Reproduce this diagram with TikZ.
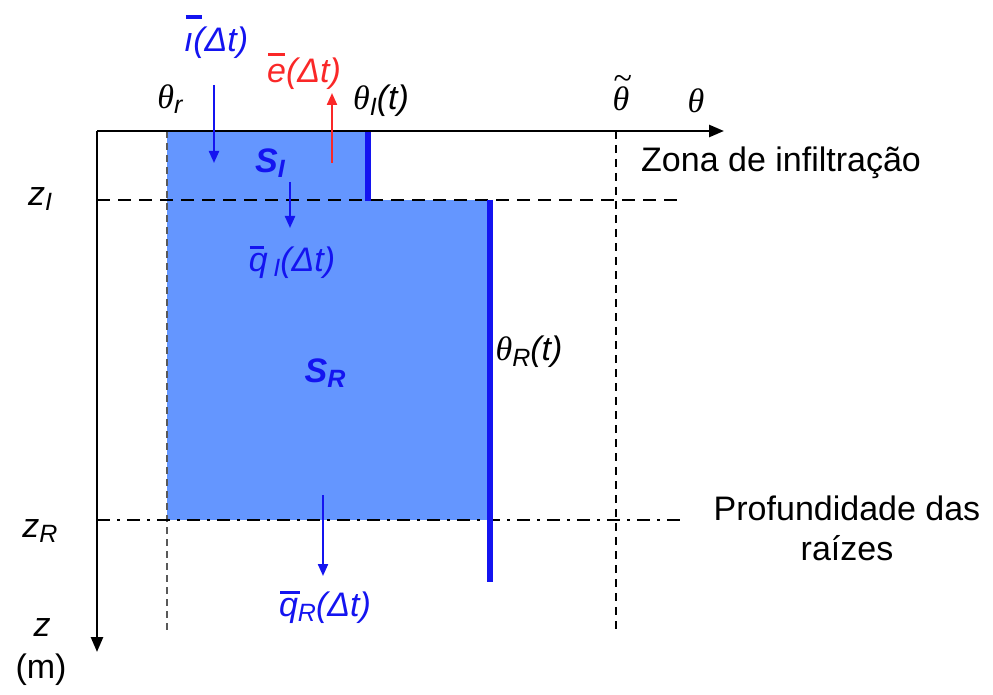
\documentclass[tikz,border=0pt]{standalone}
\usepackage{fontspec}
\setmainfont{Liberation Sans}
\newfontfamily\serifit{Liberation Serif}[ItalicFont=* Italic]
\usetikzlibrary{arrows.meta}
\definecolor{fillblue}{RGB}{100,150,255}
\definecolor{lblue}{RGB}{20,20,240}
\definecolor{lred}{RGB}{250,40,40}
\newcommand\thetaG{{\serifit\itshape θ}}
\newcommand\sbs[1]{\raisebox{-0.3ex}{\fontsize{25}{25}\selectfont\itshape #1}}
% bar over a glyph: #1 glyph, #2 raise, #3 width, #4 shift
\newcommand\barover[4]{\leavevmode\rlap{\hspace*{#4}\raisebox{#2}{\rule{#3}{3.5pt}}}#1}
\newcommand\tildetheta{\leavevmode\rlap{\hspace*{1pt}\raisebox{0.62em}{\serifit\string~}}\thetaG}
\begin{document}
\begin{tikzpicture}[x=1pt,y=-1pt,
  lab/.style={font=\fontsize{34}{40}\selectfont, inner sep=0pt},
  axis/.style={line width=2.6pt, -{Triangle[length=15pt,width=12pt]}},
  flux/.style={line width=2.2pt, -{Triangle[length=12pt,width=10pt]}},
  bounds/.style={lblue, line width=6pt},
  zline/.style={line width=2.4pt, dash pattern=on 13pt off 8pt},
  rline/.style={line width=2.4pt, dash pattern=on 13pt off 7pt on 3pt off 7pt},
  vline/.style={line width=2.2pt, dash pattern=on 8pt off 6pt}]
\useasboundingbox (0,0) rectangle (993,695);
% fills
\fill[fillblue] (167,131) rectangle (368,200);
\fill[fillblue] (167,200) rectangle (490,520);
% coordinates
\coordinate (O) at (97,131);
\coordinate (xend) at (724,131);
\coordinate (yend) at (97,652);
\coordinate (rt) at (167,131); \coordinate (rb) at (167,632);
\coordinate (tt) at (616,131); \coordinate (tb) at (616,632);
\coordinate (zIl) at (97,200); \coordinate (zIr) at (679,200);
\coordinate (zRl) at (97,520); \coordinate (zRr) at (681,520);
\coordinate (bIt) at (368,131); \coordinate (bIb) at (368,201);
\coordinate (bRt) at (490,200); \coordinate (bRb) at (490,582);
\coordinate (i1) at (214,85); \coordinate (i2) at (214,163);
\coordinate (e1) at (332,163); \coordinate (e2) at (332,93);
\coordinate (q1) at (290,182); \coordinate (q2) at (290,228);
\coordinate (r1) at (323,495); \coordinate (r2) at (323,576);
% guide lines
\draw[gray!70!black, line width=1.4pt, dash pattern=on 7pt off 5pt] (rt) -- (rb);
\draw[vline] (tt) -- (tb);
\draw[zline] (zIl) -- (zIr);
\draw[rline] (zRl) -- (zRr);
% boundaries
\draw[bounds] (bIt) -- (bIb);
\draw[bounds] (bRt) -- (bRb);
% axes
\draw[axis] (O) -- (xend);
\draw[axis] (O) -- (yend);
% fluxes
\draw[flux, lblue] (i1) -- (i2);
\draw[flux, lred] (e1) -- (e2);
\draw[flux, lblue] (q1) -- (q2);
\draw[flux, lblue] (r1) -- (r2);
% labels
\node[lab, lblue] (li) at (216,37) {\itshape \barover{ı}{33pt}{16pt}{2pt}(Δt)};
\node[lab, lred] (le) at (304,71) {\itshape \barover{e}{26pt}{17pt}{1pt}(Δt)};
\node[lab] (lthr) at (170,99) {\thetaG\sbs{r}};
\node[lab] (lthI) at (381,101) {\thetaG\sbs{I}{\itshape (t)}};
\node[lab] (ltht) at (621,93) {\tildetheta};
\node[lab] (lth) at (696,101) {\thetaG};
\node[lab, lblue] (lSI) at (270,163) {\bfseries\itshape S\sbs{\bfseries I}};
\node[lab, anchor=west] (lzona) at (641,163) {Zona de infiltração};
\node[lab] (lzI) at (40,199) {\itshape z\sbs{I}};
\node[lab, lblue] (lqI) at (292,262) {\itshape \barover{q}{22pt}{14pt}{1pt}\,\sbs{I}(Δt)};
\node[lab, lblue] (lSR) at (325,373) {\bfseries\itshape S\sbs{\bfseries R}};
\node[lab] (lthR) at (529,352) {\thetaG\sbs{R}{\itshape (t)}};
\node[lab] (lzR) at (40,531) {\itshape z\sbs{R}};
\node[lab, align=center] (lprof) at (847,528) {Profundidade das\\raízes};
\node[lab, lblue] (lqR) at (325,607) {\itshape \barover{q}{22pt}{20pt}{1pt}\sbs{R}(Δt)};
\node[lab] (lz) at (42,628) {\itshape z};
\node[lab] (lm) at (41,670) {(m)};
\end{tikzpicture}
\end{document}
